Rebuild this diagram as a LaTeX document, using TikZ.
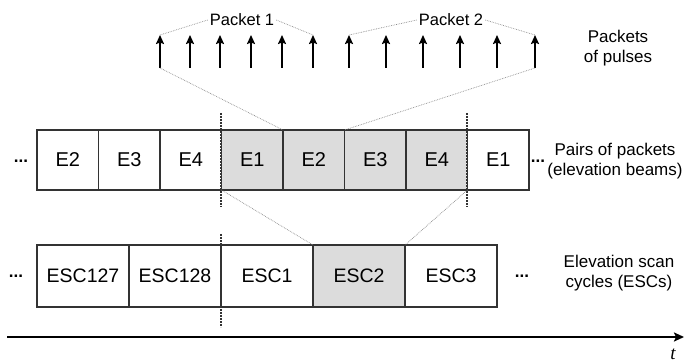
\documentclass[tikz,border=0pt]{standalone}
\usepackage{fontspec}
\setmainfont{Liberation Sans}
\newfontfamily\tfont{Liberation Serif}
\usetikzlibrary{arrows.meta,calc}
\definecolor{boxline}{HTML}{333333}
\definecolor{cellgray}{HTML}{DCDCDC}
\definecolor{dotgray}{HTML}{8A8A8A}
\begin{document}
\begin{tikzpicture}[x=1pt,y=-1pt,
  ecell/.style={draw=boxline,line width=1.3pt,minimum width=61.5pt,minimum height=60pt,inner sep=0pt,outer sep=0pt,font=\fontsize{20}{20}\selectfont},
  scell/.style={draw=boxline,line width=1.3pt,minimum width=92pt,minimum height=62pt,inner sep=0pt,outer sep=0pt,font=\fontsize{19.5}{19.5}\selectfont},
  shaded/.style={fill=cellgray},
  sidelabel/.style={font=\fontsize{17}{19.5}\selectfont,align=center,inner sep=0pt},
  pktlabel/.style={font=\fontsize{16.5}{16.5}\selectfont,inner sep=2pt},
  dots/.style={font=\bfseries\fontsize{17}{17}\selectfont,inner sep=0pt},
  pulse/.style={line width=2.2pt,-{Stealth[length=9pt,width=8pt,inset=1.5pt]}},
  guide/.style={dotgray,line width=0.7pt,densely dotted},
  marker/.style={boxline,line width=1.4pt,dash pattern=on 2pt off 1pt},
  axis/.style={line width=2.4pt,-{Stealth[length=10pt,width=9pt,inset=2pt]}}
]
\useasboundingbox (0,0) rectangle (685,363);

% top row: elevation beams
\node[ecell] (a1) at (67.75,160) {E2};
\node[ecell] (a2) at (129.25,160) {E3};
\node[ecell] (a3) at (190.75,160) {E4};
\node[ecell,shaded] (a4) at (252.25,160) {E1};
\node[ecell,shaded] (a5) at (313.75,160) {E2};
\node[ecell,shaded] (a6) at (375.25,160) {E3};
\node[ecell,shaded] (a7) at (436.75,160) {E4};
\node[ecell] (a8) at (498.25,160) {E1};

% bottom row: ESCs
\node[scell] (b1) at (83,276) {ESC127};
\node[scell] (b2) at (175,276) {ESC128};
\node[scell] (b3) at (267,276) {ESC1};
\node[scell,shaded] (b4) at (359,276) {ESC2};
\node[scell] (b5) at (451,276) {ESC3};

% dashed markers
\coordinate (m1t) at (221,113); \coordinate (m1b) at (221,207);
\coordinate (m2t) at (467,113); \coordinate (m2b) at (467,207);
\coordinate (m3t) at (221,234); \coordinate (m3b) at (221,327);
\draw[marker] (m1t) -- (m1b);
\draw[marker] (m2t) -- (m2b);
\draw[marker] (m3t) -- (m3b);

% ellipsis dots
\node[dots] (d1) at (21,161) {...};
\node[dots] (d2) at (538,161) {...};
\node[dots] (d3) at (16,276) {...};
\node[dots] (d4) at (522,276) {...};

% side labels
\node[sidelabel] (s1) at (618,48) {Packets\\of pulses};
\node[sidelabel] (s2) at (615,161) {Pairs of packets\\(elevation beams)};
\node[sidelabel] (s3) at (619,273) {Elevation scan\\cycles (ESCs)};

% pulses
\foreach \x [count=\i] in {160,190,220,251,282,313,349,386,423,460,497,535}{
  \coordinate (pb\i) at (\x,68);
  \coordinate (pt\i) at (\x,35);
  \draw[pulse] (pb\i) -- (pt\i);
}

% packet labels
\node[pktlabel] (p1) at (242,20) {Packet 1};
\node[pktlabel] (p2) at (451,20) {Packet 2};

% guide lines
\draw[guide] (p1.west) -- (pt1);
\draw[guide] (p1.east) -- (pt6);
\draw[guide] (p2.west) -- (pt7);
\draw[guide] (p2.east) -- (pt12);
\draw[guide] (pb1) -- (a5.north west);
\draw[guide] (pb12) -- (a5.north east);
\draw[guide] (a4.south west) -- (b4.north west);
\draw[guide] (a7.south east) -- (b4.north east);

% time axis
\coordinate (t0) at (7,337);
\coordinate (t1) at (684,337);
\draw[axis] (t0) -- (t1);
\node[font=\tfont\itshape\fontsize{19}{19}\selectfont,inner sep=0pt] (tl) at (673,354) {t};
\end{tikzpicture}
\end{document}
